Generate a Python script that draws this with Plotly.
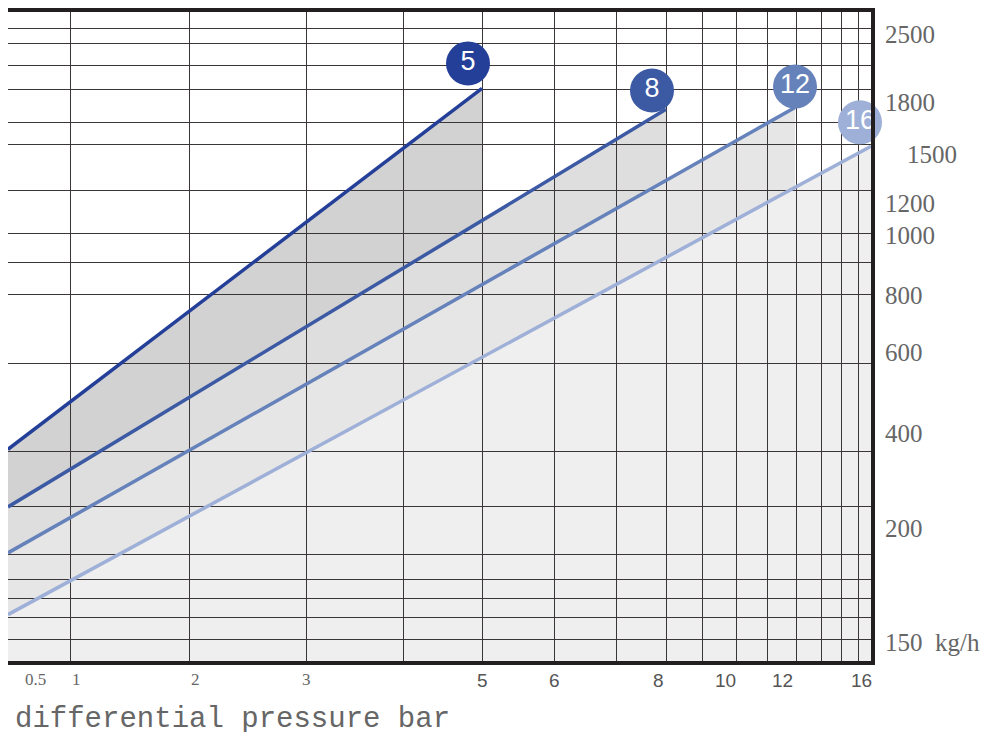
import numpy as np
import plotly.graph_objects as go

# --- axis calibration (value -> position along axis, in plot pixels) ---
X_TICKS = [0.5, 1, 2, 3, 5, 6, 8, 10, 12, 16]
X_TICK_LABELS = ["0.5", "1", "2", "3", "5", "6", "8", "10", "12", "16"]
X_POS = [5, 67, 186, 303, 479, 551, 663, 735, 792, 868]
Y_TICKS = [150, 200, 400, 600, 800, 1000, 1200, 1500, 1800, 2500]
Y_TICK_LABELS = ["150  kg/h", "200", "400", "600", "800", "1000", "1200", "1500", "1800", "2500"]
Y_POS = [3, 118, 213, 310, 368, 428, 476, 525, 578, 646]

# --- series (pipe size): start/end pressure and flow ---
series_names = ["5", "8", "12", "16"]
p_start = [0.5, 0.5, 0.5, 0.5]
p_end = [5, 8, 12, 16]
flow_start = [400, 278, 196, 169]
flow_end = [1790, 1670, 1681, 1457]
colors = ["#243f98", "#3c59a4", "#6682bb", "#9eb0d7"]
fills = ["#d2d2d2", "#dedede", "#e6e6e6", "#efefef"]

X_GRID = [67, 186, 303, 400, 479, 551, 613, 663, 699, 733, 764, 793, 818, 838, 855]
Y_GRID = [22, 44, 63, 82, 107, 155, 211, 299, 369, 401, 430, 473, 520, 542, 575, 599, 621, 636]

def fx(v):
    return float(np.interp(v, X_TICKS, X_POS))

def fy(v):
    return float(np.interp(v, Y_TICKS, Y_POS))

def px(v):  # plot pixel x -> paper
    return (v - 5) / 863.0

def py(v):  # plot pixel y (from bottom) -> paper
    return v / 653.0

fig = go.Figure()
shapes = []
for i in range(4):
    x0, x1 = fx(p_start[i]), fx(p_end[i])
    y0, y1 = fy(flow_start[i]), fy(flow_end[i])
    shapes.append(dict(type="path", xref="x", yref="y", layer="below",
                       path=f"M {x0},0 L {x0},{y0} L {x1},{y1} L {x1},0 Z",
                       fillcolor=fills[i], line=dict(width=0)))
offsets = [(-14, 25), (-14, 19), (0, 21), (-11, 24)]
for i in range(4):
    x0, x1 = fx(p_start[i]), fx(p_end[i])
    y0, y1 = fy(flow_start[i]), fy(flow_end[i])
    fig.add_trace(go.Scatter(x=[x0, x1], y=[y0, y1], mode="lines", cliponaxis=False,
                             line=dict(color=colors[i], width=3.5), showlegend=False))
    dx, dy = offsets[i]
    fig.add_trace(go.Scatter(x=[x1 + dx], y=[y1 + dy], mode="markers+text", cliponaxis=False,
                             marker=dict(size=44, color=colors[i], line=dict(width=0)),
                             text=[series_names[i]], textposition="middle center",
                             textfont=dict(family="Liberation Sans, Arial", size=27, color="white"),
                             showlegend=False))

ann = []
sans_labels = {"5", "6", "8", "10", "12", "16"}
for v, lab in zip(X_TICKS, X_TICK_LABELS):
    xpos = fx(v)
    if lab == "0.5":
        xpos = 20
    if lab == "16":
        xpos = 871
    sans = lab in sans_labels
    ann.append(dict(x=px(xpos), y=py(-7), xref="paper", yref="paper", text=lab, showarrow=False,
                    yanchor="top",
                    font=dict(family="Liberation Sans" if sans else "Liberation Serif",
                              size=19 if sans else 17, color="#555" if sans else "#666")))
for v, lab in zip(Y_TICKS, Y_TICK_LABELS):
    xa = 880 if lab != "1500" else 902
    ann.append(dict(x=px(xa), y=py(fy(v)), xref="paper", yref="paper", text=lab, showarrow=False,
                    xanchor="left",
                    font=dict(family="Liberation Serif", size=25, color="#666")))
ann.append(dict(x=px(10), y=py(-40), xref="paper", yref="paper", text="differential pressure bar",
                showarrow=False, xanchor="left", yanchor="top",
                font=dict(family="Liberation Mono", size=29, color="#666")))

fig.update_layout(
    width=1000, height=732, margin=dict(l=0, r=137, t=0, b=79),
    plot_bgcolor="white", paper_bgcolor="white", annotations=ann, shapes=shapes,
    xaxis=dict(range=[5, 868], tickvals=X_GRID, showticklabels=False, showgrid=True,
               gridcolor="#3a3536", gridwidth=1.3, zeroline=False, showline=True,
               linecolor="#231f20", linewidth=4, mirror=True, ticks=""),
    yaxis=dict(range=[0, 653], tickvals=Y_GRID, showticklabels=False, showgrid=True,
               gridcolor="#3a3536", gridwidth=1.3, zeroline=False, showline=True,
               linecolor="#231f20", linewidth=4, mirror=True, ticks=""),
)
fig.write_html("out.html")
